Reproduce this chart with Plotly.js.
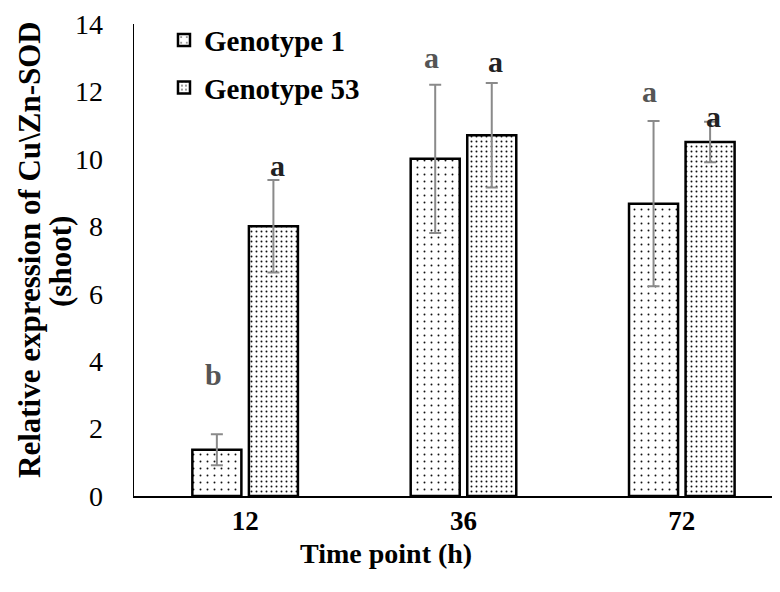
<!DOCTYPE html>
<html>
<head>
<meta charset="utf-8">
<script src="https://cdn.plot.ly/plotly-3.0.1.min.js"></script>
<style>body{margin:0;background:#fff;} #chart{width:780px;height:592px;}</style>
</head>
<body>
<div id="chart"></div>
<script>
const categories = ["12", "36", "72"];
const genotype1 = [1.37, 10.0, 8.67];
const genotype1Err = [0.46, 2.2, 2.45];
const genotype53 = [8.0, 10.7, 10.5];
const genotype53Err = [1.37, 1.55, 0.6];
const letters1 = ["b", "a", "a"];
const letters1Y = [3.6, 13.0, 12.0];
const letters53 = ["a", "a", "a"];
const letters53Y = [9.8, 12.9, 11.25];
const yTitleLines = ["Relative expression of Cu\\Zn-SOD", "(shoot)"];
const xTitle = "Time point (h)";

const serif = "Liberation Serif, Times New Roman, serif";

const traces = [
  {
    type: "bar", name: "Genotype 1", x: categories, y: genotype1,
    legendgroup: "g1",
    marker: {color: "#ffffff", line: {color: "#000", width: 2.5},
      pattern: {shape: ".", fgcolor: "#111", bgcolor: "#fff", size: 7, solidity: 0.06}},
    error_y: {type: "data", array: genotype1Err, visible: true, color: "#8a8a8a", thickness: 2, width: 6}
  },
  {
    type: "bar", name: "Genotype 53", x: categories, y: genotype53,
    legendgroup: "g2",
    marker: {color: "#ffffff", line: {color: "#000", width: 2.5},
      pattern: {shape: ".", fgcolor: "#111", bgcolor: "#fff", size: 5, solidity: 0.12}},
    error_y: {type: "data", array: genotype53Err, visible: true, color: "#8a8a8a", thickness: 2, width: 6}
  }
];

const annotations = [];
categories.forEach((c, i) => {
  annotations.push({x: i, y: letters1Y[i], xref: "x", yref: "y", text: letters1[i], showarrow: false,
    xshift: -32, font: {family: serif, size: 30, color: "#555", weight: "bold"}});
  annotations.push({x: i, y: letters53Y[i], xref: "x", yref: "y", text: letters53[i], showarrow: false,
    xshift: 32, font: {family: serif, size: 30, color: "#222", weight: "bold"}});
});
annotations.push({x: 0, y: 0.5, xref: "paper", yref: "paper", text: yTitleLines[0], textangle: -90, showarrow: false,
  xanchor: "center", yanchor: "middle", xshift: -105, yshift: 10,
  font: {family: serif, size: 31, color: "#000", weight: "bold"}});
annotations.push({x: 0, y: 0.5, xref: "paper", yref: "paper", text: yTitleLines[1], textangle: -90, showarrow: false,
  xanchor: "center", yanchor: "middle", xshift: -74, yshift: -2,
  font: {family: serif, size: 31, color: "#000", weight: "bold"}});
annotations.push({x: 0.395, y: 0, xref: "paper", yref: "paper", text: xTitle, showarrow: false,
  xanchor: "center", yanchor: "middle", yshift: -57,
  font: {family: serif, size: 28, color: "#000", weight: "bold"}});

const layout = {
  width: 780, height: 592,
  margin: {l: 134, r: 8, t: 24, b: 96},
  paper_bgcolor: "#fff", plot_bgcolor: "#fff",
  barmode: "group", bargap: 0.482, bargroupgap: 0.133,
  font: {family: serif, color: "#000"},
  xaxis: {
    type: "category", range: [-0.509, 2.413],
    showline: true, linecolor: "#000", linewidth: 1.5, ticks: "",
    tickfont: {family: serif, size: 27, weight: "bold", color: "#000"}
  },
  yaxis: {
    range: [0, 14], dtick: 2, showgrid: false, zeroline: false, showline: true, linecolor: "#000", linewidth: 1.5, ticks: "",
    ticklabelstandoff: 24,
    tickfont: {family: serif, size: 28, color: "#000"}
  },
  showlegend: true,
  legend: {x: 0.047, y: 1.02, xanchor: "left", yanchor: "top", traceorder: "grouped", tracegroupgap: 7,
    font: {family: serif, size: 29, weight: "bold", color: "#000"}, bgcolor: "rgba(0,0,0,0)", itemwidth: 30},
  annotations: annotations
};

Plotly.newPlot("chart", traces, layout, {displayModeBar: false, staticPlot: true});
</script>
</body>
</html>
